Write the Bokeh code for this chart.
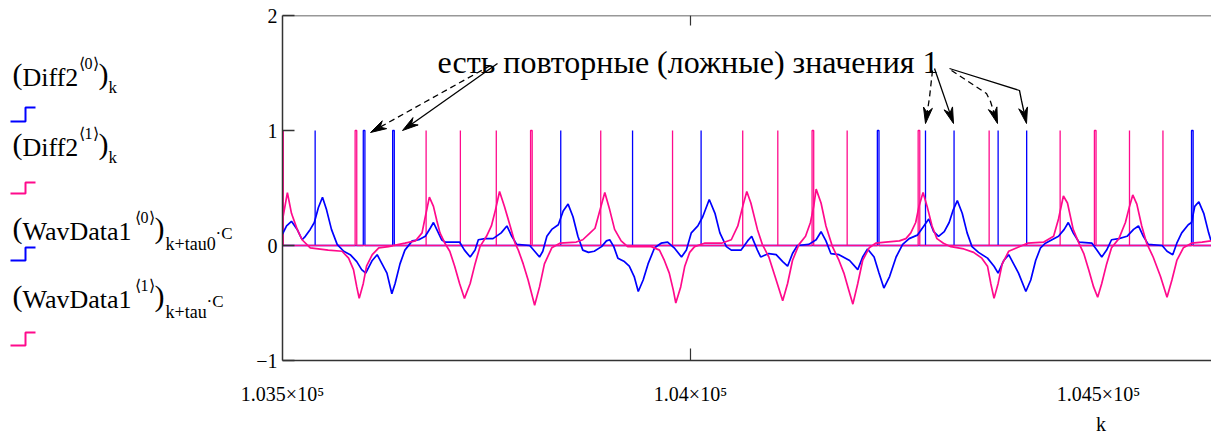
import math
from bokeh.plotting import figure
from bokeh.models import Range1d, FixedTicker, Span, Label, LinearAxis
from bokeh.layouts import row
from bokeh.core.properties import value
from bokeh.embed import file_html
from bokeh.resources import INLINE

# ---------------- data ----------------
# WavData1<0> (blue) : k, value
wav0_k = [103500, 103505, 103511, 103518, 103524, 103528, 103534, 103539, 103544, 103549,
          103554, 103560, 103567, 103575, 103583, 103591, 103597, 103602, 103610, 103616,
          103622, 103628, 103634, 103638, 103644, 103650, 103659, 103667, 103675, 103681,
          103685, 103689, 103695, 103699, 103717, 103723, 103730, 103736, 103740, 103748,
          103758, 103768, 103775, 103781, 103787, 103803, 103809, 103815, 103819, 103824,
          103830, 103838, 103844, 103850, 103856, 103862, 103868, 103875, 103882, 103891,
          103897, 103901, 103906, 103911, 103919, 103925, 103931, 103936, 103942, 103948,
          103956, 103964, 103972, 103980, 103989, 103995, 104001, 104009, 104015, 104023,
          104030, 104036, 104044, 104050, 104062, 104070, 104075, 104082, 104086, 104096,
          104105, 104113, 104119, 104125, 104131, 104145, 104154, 104160, 104166, 104172,
          104182, 104195, 104205, 104211, 104217, 104225, 104231, 104237, 104244, 104252,
          104260, 104268, 104278, 104286, 104292, 104298, 104304, 104311, 104317, 104322,
          104327, 104333, 104339, 104345, 104353, 104364, 104372, 104377, 104384, 104390,
          104396, 104402, 104411, 104417, 104423, 104429, 104435, 104443, 104451, 104458,
          104463, 104469, 104476, 104492, 104498, 104504, 104510, 104516, 104525, 104535,
          104543, 104549, 104555, 104561, 104578, 104584, 104591, 104596, 104602, 104610,
          104614, 104618, 104623, 104629, 104635, 104638]
wav0_v = [0.10, 0.17, 0.21, 0.14, 0.05, 0.08, 0.14, 0.20, 0.33, 0.42,
          0.31, 0.14, 0.01, -0.05, -0.08, -0.14, -0.21, -0.24, -0.13, -0.08,
          -0.16, -0.24, -0.42, -0.33, -0.16, -0.04, 0.04, 0.05, 0.08, 0.15,
          0.20, 0.14, 0.05, 0.03, 0.03, -0.04, -0.10, -0.04, 0.05, 0.06,
          0.06, 0.11, 0.17, 0.08, 0.01, 0.00, -0.05, -0.10, -0.05, 0.08,
          0.14, 0.18, 0.30, 0.36, 0.25, 0.08, -0.04, -0.06, -0.05, -0.01,
          0.04, 0.05, -0.01, -0.11, -0.14, -0.18, -0.27, -0.40, -0.30, -0.16,
          -0.02, 0.02, 0.03, -0.02, -0.10, -0.04, 0.11, 0.17, 0.25, 0.40,
          0.28, 0.11, -0.01, -0.04, -0.04, 0.04, 0.08, -0.04, -0.10, -0.07,
          -0.08, -0.14, -0.18, -0.07, 0.00, 0.01, 0.05, 0.12, 0.04, -0.07,
          -0.08, -0.13, -0.21, -0.10, -0.03, -0.10, -0.24, -0.37, -0.27, -0.10,
          0.01, 0.06, 0.09, 0.17, 0.23, 0.12, 0.08, 0.12, 0.20, 0.31,
          0.39, 0.28, 0.11, -0.01, -0.06, -0.11, -0.18, -0.24, -0.13, -0.08,
          -0.16, -0.24, -0.40, -0.30, -0.13, -0.02, 0.02, 0.05, 0.08, 0.14,
          0.20, 0.11, 0.03, 0.02, -0.04, -0.10, -0.04, 0.05, 0.06, 0.08,
          0.14, 0.17, 0.08, 0.01, 0.00, -0.05, -0.08, 0.02, 0.11, 0.18,
          0.20, 0.34, 0.38, 0.28, 0.11, 0.04]

# WavData1<1> (pink) : k, value
wav1_k = [103500, 103506, 103511, 103518, 103524, 103534, 103556, 103573, 103581, 103587,
          103591, 103594, 103599, 103603, 103610, 103618, 103630, 103650, 103663, 103671,
          103675, 103680, 103685, 103689, 103693, 103699, 103705, 103711, 103717, 103723,
          103730, 103736, 103742, 103750, 103756, 103761, 103766, 103772, 103779, 103785,
          103789, 103795, 103801, 103809, 103815, 103821, 103830, 103840, 103860, 103868,
          103877, 103883, 103888, 103895, 103901, 103907, 103915, 103923, 103952, 103962,
          103968, 103974, 103979, 103982, 103988, 103993, 103999, 104005, 104017, 104038,
          104050, 104058, 104064, 104069, 104074, 104082, 104088, 104096, 104105, 104113,
          104119, 104125, 104133, 104141, 104147, 104151, 104154, 104160, 104166, 104174,
          104182, 104188, 104194, 104199, 104205, 104211, 104219, 104227, 104239, 104256,
          104264, 104270, 104276, 104280, 104285, 104290, 104296, 104302, 104310, 104319,
          104335, 104347, 104357, 104364, 104368, 104372, 104377, 104382, 104390, 104400,
          104413, 104433, 104445, 104451, 104457, 104462, 104469, 104476, 104482, 104488,
          104494, 104499, 104504, 104510, 104516, 104525, 104533, 104538, 104542, 104547,
          104553, 104559, 104567, 104576, 104584, 104590, 104596, 104604, 104614, 104627,
          104638]
wav1_v = [0.22, 0.46, 0.28, 0.14, 0.05, -0.02, -0.04, -0.05, -0.11, -0.21,
          -0.36, -0.46, -0.33, -0.18, -0.08, -0.02, -0.01, 0.02, 0.04, 0.11,
          0.25, 0.42, 0.34, 0.22, 0.11, 0.02, -0.05, -0.18, -0.33, -0.46,
          -0.33, -0.16, -0.01, 0.08, 0.17, 0.31, 0.47, 0.34, 0.17, 0.02,
          -0.04, -0.16, -0.30, -0.52, -0.36, -0.16, -0.02, 0.02, 0.03, 0.05,
          0.11, 0.15, 0.28, 0.46, 0.31, 0.14, 0.04, -0.01, -0.01, -0.04,
          -0.13, -0.24, -0.39, -0.50, -0.36, -0.18, -0.06, -0.01, 0.02, 0.02,
          0.05, 0.17, 0.34, 0.47, 0.37, 0.14, 0.01, -0.10, -0.30, -0.48,
          -0.33, -0.13, 0.01, 0.08, 0.20, 0.34, 0.49, 0.37, 0.17, -0.01,
          -0.13, -0.24, -0.39, -0.51, -0.33, -0.13, -0.02, 0.02, 0.03, 0.04,
          0.06, 0.11, 0.20, 0.34, 0.46, 0.34, 0.17, 0.06, 0.02, -0.01,
          -0.03, -0.06, -0.11, -0.18, -0.33, -0.46, -0.33, -0.16, -0.05, -0.02,
          0.02, 0.03, 0.08, 0.23, 0.43, 0.37, 0.14, 0.02, -0.07, -0.21,
          -0.36, -0.45, -0.33, -0.16, -0.02, 0.06, 0.20, 0.34, 0.44, 0.36,
          0.17, 0.02, -0.10, -0.27, -0.45, -0.30, -0.13, -0.02, 0.02, 0.03,
          0.04]

# Diff2<0> (blue) and Diff2<1> (pink): samples where the value is 1 (start k, run length)
diff0_k = [103540, 103599, 103635, 103841, 103929, 104013, 104229, 104288, 104323, 104377, 104412, 104614]
diff0_len = [0, 2, 2, 0, 0, 0, 2, 0, 0, 0, 0, 2]
diff1_k = [103501, 103589, 103676, 103718, 103762, 103804, 103890, 103978, 104064, 104107,
           104149, 104192, 104279, 104366, 104453, 104495, 104538, 104579]
diff1_len = [0, 2, 0, 0, 0, 2, 0, 0, 0, 0, 2, 0, 2, 0, 0, 2, 0, 0]

x_ticks = [103500, 104000, 104500]
x_tick_labels = ["1.035×10⁵", "1.04×10⁵", "1.045×10⁵"]
y_ticks = [-1, 0, 1, 2]
y_tick_labels = ["−1", "0", "1", "2"]
x_title = "k"
x_title_pos = 104503

annotation_text = "есть повторные (ложные) значения 1"

# ---------------- layout ----------------
W, H = 1211, 440
LW = 236                      # width of the left legend panel
FX0, FX1 = 282, 1211          # frame, in window pixels
FY0, FY1 = 15, 360
K0, K1 = 103500, 104638.5
V0, V1 = -1.0, 2.0

def kx(px):
    return K0 + (px - FX0) * (K1 - K0) / (FX1 - FX0)

def vy(py):
    return V1 - (py - FY0) * (V1 - V0) / (FY1 - FY0)

BLUE = "#0000ff"
PINK = "#ff0a8c"
AXIS = "#333333"
SERIF = "Liberation Serif"

p = figure(width=W - LW, height=H, x_range=Range1d(K0, K1), y_range=Range1d(V0, V1),
           toolbar_location=None, output_backend="svg",
           min_border_left=FX0 - LW, min_border_right=0, min_border_top=FY0,
           min_border_bottom=H - FY1)
p.grid.visible = False
p.outline_line_color = None
p.background_fill_color = "white"
p.border_fill_color = "white"

# axes
xa = p.xaxis[0]
xa.ticker = FixedTicker(ticks=x_ticks)
xa.major_label_overrides = {float(t): s for t, s in zip(x_ticks, x_tick_labels)}
xa.major_tick_line_color = None
xa.major_tick_in = 0
xa.major_tick_out = 0
xa.minor_tick_line_color = None
xa.axis_line_color = AXIS
xa.axis_line_width = 1.5
xa.major_label_text_font = SERIF
xa.major_label_text_font_size = "20px"
xa.major_label_text_color = "black"
xa.major_label_standoff = 22

kax = LinearAxis(ticker=FixedTicker(ticks=[x_title_pos]),
                 major_label_overrides={float(x_title_pos): x_title},
                 axis_line_color=None, major_tick_line_color=None, minor_tick_line_color=None,
                 major_tick_in=0, major_tick_out=0, major_label_standoff=5,
                 major_label_text_font=SERIF, major_label_text_font_size="20px",
                 major_label_text_color="black")
p.add_layout(kax, "below")

ya = p.yaxis[0]
ya.ticker = FixedTicker(ticks=y_ticks)
ya.major_label_overrides = {float(t): s for t, s in zip(y_ticks, y_tick_labels)}
ya.major_tick_in = 12
ya.major_tick_out = 0
ya.major_tick_line_color = AXIS
ya.major_tick_line_width = 1.5
ya.minor_tick_line_color = None
ya.axis_line_color = AXIS
ya.axis_line_width = 1.5
ya.major_label_text_font = SERIF
ya.major_label_text_font_size = "20px"
ya.major_label_text_color = "black"
ya.major_label_standoff = 5

p.add_layout(Span(location=V1, dimension="width", line_color=AXIS, line_width=1.5))
# tick marks at 1.04e5 on the top and bottom edges
p.segment(x0=[x_ticks[1]], y0=[V1], x1=[x_ticks[1]], y1=[vy(FY0 + 10)], line_color=AXIS, line_width=1.2)
p.segment(x0=[x_ticks[1]], y0=[V0], x1=[x_ticks[1]], y1=[vy(FY1 - 12)], line_color=AXIS, line_width=1.2)

# ---------------- traces ----------------
def pulse_path(starts, lens):
    xs, ys = [K0], [0]
    for s, l in zip(starts, lens):
        xs += [s, s, s + l, s + l]
        ys += [0, 1, 1, 0]
    xs.append(K1)
    ys.append(0)
    return xs, ys

bx, by = pulse_path(diff0_k, diff0_len)
p.line(bx, by, line_color=BLUE, line_width=1.3)
mx, my = pulse_path(diff1_k, diff1_len)
p.line(mx, my, line_color=PINK, line_width=1.3)
p.line(wav0_k, wav0_v, line_color=BLUE, line_width=1.7)
p.line(wav1_k, wav1_v, line_color=PINK, line_width=1.7)

# ---------------- annotation text and arrows ----------------
p.add_layout(Label(x=kx(437), y=vy(61), text=annotation_text, text_font=SERIF,
                   text_font_size="32px", text_color="black", text_baseline="alphabetic"))

def arrow(points, dashed):
    (x1, y1), (x2, y2) = points[-2], points[-1]
    d = math.hypot(x2 - x1, y2 - y1)
    ux, uy = (x2 - x1) / d, (y2 - y1) / d
    nx, ny = -uy, ux
    L, hw, notch = 16, 4.5, 11
    bxp, byp = x2 - L * ux, y2 - L * uy
    head = [(x2, y2), (bxp + hw * nx, byp + hw * ny), (x2 - notch * ux, y2 - notch * uy),
            (bxp - hw * nx, byp - hw * ny)]
    body = points[:-1] + [(x2 - notch * ux, y2 - notch * uy)]
    p.line([kx(a) for a, b in body], [vy(b) for a, b in body], line_color="black",
           line_width=1.3, line_dash="6 4" if dashed else "solid")
    p.patch([kx(a) for a, b in head], [vy(b) for a, b in head], fill_color="black",
            line_color="black", line_width=1)

arrow([(490, 65), (370, 132)], True)
arrow([(497, 63), (402, 130)], False)
arrow([(932, 70), (929, 97), (925, 123)], True)
arrow([(934, 68), (953, 123)], False)
arrow([(951, 70), (986, 93), (990, 101), (997, 123)], True)
arrow([(949, 68), (1019, 90), (1021, 100), (1026, 123)], False)

# ---------------- left legend panel (window-pixel coordinates) ----------------
# its frame is aligned with the main frame (rows 15..360), so the y range uses those pixels
leg = figure(width=LW, height=H, x_range=Range1d(0, LW), y_range=Range1d(FY1, FY0),
             toolbar_location=None, output_backend="svg",
             min_border_left=0, min_border_right=0, min_border_top=FY0,
             min_border_bottom=H - FY1, x_axis_location=None, y_axis_location=None)
leg.grid.visible = False
leg.outline_line_color = None
leg.background_fill_color = "white"
leg.border_fill_color = "white"

legend_pieces = [
    ("(", 12, 73, 30), ("Diff2", 22, 77, 26), ("⟨0⟩", 78, 63, 16), (")", 98, 73, 30), ("k", 108, 87, 17),
    ("(", 12, 143, 30), ("Diff2", 22, 147, 26), ("⟨1⟩", 78, 133, 16), (")", 98, 143, 30), ("k", 108, 157, 17),
    ("(", 12, 227, 30), ("WavData1", 22, 231, 26), ("⟨0⟩", 134, 217, 16), (")", 154, 227, 30),
    ("k+tau0", 165, 243, 18), ("·C", 215, 233, 17),
    ("(", 12, 295, 30), ("WavData1", 22, 299, 26), ("⟨1⟩", 134, 285, 16), (")", 154, 295, 30),
    ("k+tau", 165, 311, 18), ("·C", 206, 301, 17),
]
for txt, x, y, size in legend_pieces:
    leg.text(x=[x], y=[y], text=[txt], text_font=value(SERIF), text_font_size=f"{size}px",
             text_color="black", text_baseline="alphabetic", text_align="left")

legend_symbols = [(BLUE, 107, 121), (PINK, 182, 193), (BLUE, 247, 260), (PINK, 332, 345)]
for color, ytop, ybot in legend_symbols:
    leg.line([10, 25, 25, 35], [ybot, ybot, ytop, ytop], line_color=color, line_width=2)

layout = row(leg, p, spacing=0)
open("out.html", "w").write(file_html(layout, INLINE, "plot"))
